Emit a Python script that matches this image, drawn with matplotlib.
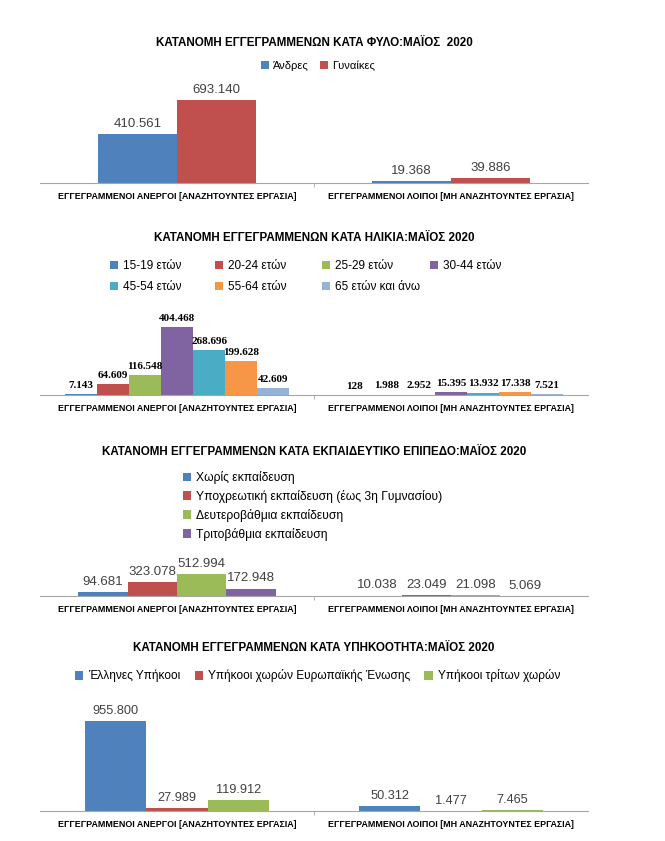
import numpy as np
import matplotlib
matplotlib.use("Agg")
import matplotlib.pyplot as plt
from matplotlib.legend import Legend

plt.rcParams['font.family'] = ['Liberation Sans', 'DejaVu Sans']

# categories (x axis of every chart)
cats = ['ΕΓΓΕΓΡΑΜΜΕΝΟΙ ΑΝΕΡΓΟΙ [ΑΝΑΖΗΤΟΥΝΤΕΣ ΕΡΓΑΣΙΑ]',
        'ΕΓΓΕΓΡΑΜΜΕΝΟΙ ΛΟΙΠΟΙ [ΜΗ ΑΝΑΖΗΤΟΥΝΤΕΣ ΕΡΓΑΣΙΑ]']

# chart 1: by sex
sex_labels = ['Άνδρες', 'Γυναίκες']
sex_men = [410561, 19368]
sex_women = [693140, 39886]

# chart 2: by age
age_labels = ['15-19 ετών', '20-24 ετών', '25-29 ετών', '30-44 ετών',
              '45-54 ετών', '55-64 ετών', '65 ετών και άνω']
age_15_19 = [7143, 128]
age_20_24 = [64609, 1988]
age_25_29 = [116548, 2952]
age_30_44 = [404468, 15395]
age_45_54 = [268696, 13932]
age_55_64 = [199628, 17338]
age_65 = [42609, 7521]

# chart 3: by education
edu_labels = ['Χωρίς εκπαίδευση', 'Υποχρεωτική εκπαίδευση (έως 3η Γυμνασίου)',
              'Δευτεροβάθμια εκπαίδευση', 'Τριτοβάθμια εκπαίδευση']
edu_none = [94681, 10038]
edu_compulsory = [323078, 23049]
edu_secondary = [512994, 21098]
edu_tertiary = [172948, 5069]

# chart 4: by nationality
nat_labels = ['Έλληνες Υπήκοοι', 'Υπήκοοι χωρών Ευρωπαϊκής Ένωσης', 'Υπήκοοι τρίτων χωρών']
nat_greek = [955800, 50312]
nat_eu = [27989, 1477]
nat_other = [119912, 7465]

BLUE, RED, GREEN, PURPLE = '#4F81BD', '#C0504D', '#9BBB59', '#8064A2'
AQUA, ORANGE, LBLUE = '#4BACC6', '#F79646', '#95B3D7'

W, H = 665, 841
fig = plt.figure(figsize=(W / 100, H / 100), dpi=100)


def fmt(v):
    return f"{v:,}".replace(',', '.')


def make_axes(top, bottom):
    ax = fig.add_axes([40 / W, 1 - bottom / H, 548 / W, (bottom - top) / H])
    for s in ['top', 'right', 'left']:
        ax.spines[s].set_visible(False)
    ax.spines['bottom'].set_color('#A6A6A6')
    ax.set_yticks([])
    ax.set_xlim(-0.5, 1.5)
    ax.set_xticks([0, 1])
    ax.set_xticklabels(cats, fontsize=6.4, fontweight='bold')
    ax.tick_params(axis='x', length=0, pad=6.5)
    ax.set_xticks([0.5], minor=True)
    ax.tick_params(axis='x', which='minor', length=3, color='#A6A6A6')
    return ax


def grouped(ax, labels, series, colors, group_w, ymax, lab_kw):
    n = len(series)
    w = group_w / n
    x = np.arange(len(cats))
    for i, (lab, vals, c) in enumerate(zip(labels, series, colors)):
        bars = ax.bar(x - group_w / 2 + w * (i + 0.5), vals, w, color=c, label=lab)
        ax.bar_label(bars, labels=[fmt(v) for v in vals], padding=3, **lab_kw)
    ax.set_ylim(0, ymax)


def title(y, text):
    fig.text(314 / W, 1 - y / H, text, ha='center', va='center',
             fontsize=8.4, fontweight='bold')


leg_kw = dict(frameon=False, handlelength=0.7, handleheight=0.7,
              handletextpad=0.4, borderpad=0, borderaxespad=0,
              bbox_transform=fig.transFigure)

# ---- chart 1
title(43, 'ΚΑΤΑΝΟΜΗ ΕΓΓΕΓΡΑΜΜΕΝΩΝ ΚΑΤΑ ΦΥΛΟ:ΜΑΪΟΣ  2020')
ax1 = make_axes(80, 183)
grouped(ax1, sex_labels, [sex_men, sex_women], [BLUE, RED], 0.573, 860000,
        dict(fontsize=9.5, color='#404040'))
ax1.legend(loc='center', bbox_to_anchor=(318 / W, 1 - 66 / H), ncol=2,
           columnspacing=1.0, fontsize=8, **leg_kw)

# ---- chart 2
title(238, 'ΚΑΤΑΝΟΜΗ ΕΓΓΕΓΡΑΜΜΕΝΩΝ ΚΑΤΑ ΗΛΙΚΙΑ:ΜΑΪΟΣ 2020')
ax2 = make_axes(300, 395)
grouped(ax2, age_labels,
        [age_15_19, age_20_24, age_25_29, age_30_44, age_45_54, age_55_64, age_65],
        [BLUE, RED, GREEN, PURPLE, AQUA, ORANGE, LBLUE], 0.82, 565000,
        dict(fontsize=8, fontweight='bold', fontfamily='Liberation Serif'))
h2, l2 = ax2.get_legend_handles_labels()
col_x = [110, 215, 322, 430]
for c, cx in enumerate(col_x):
    leg = Legend(ax2, h2[c::4], l2[c::4], loc='upper left',
                 bbox_to_anchor=(cx / W, 1 - 260 / H), ncol=1,
                 labelspacing=0.8, fontsize=8.5, **leg_kw)
    ax2.add_artist(leg)

# ---- chart 3
title(452, 'ΚΑΤΑΝΟΜΗ ΕΓΓΕΓΡΑΜΜΕΝΩΝ ΚΑΤΑ ΕΚΠΑΙΔΕΥΤΙΚΟ ΕΠΙΠΕΔΟ:ΜΑΪΟΣ 2020')
ax3 = make_axes(545, 596)
grouped(ax3, edu_labels, [edu_none, edu_compulsory, edu_secondary, edu_tertiary],
        [BLUE, RED, GREEN, PURPLE], 0.72, 1188000,
        dict(fontsize=9.5, color='#404040'))
ax3.legend(loc='upper left', bbox_to_anchor=(183 / W, 1 - 471 / H), ncol=1,
           labelspacing=0.49, fontsize=8.7, **leg_kw)

# ---- chart 4
title(648, 'ΚΑΤΑΝΟΜΗ ΕΓΓΕΓΡΑΜΜΕΝΩΝ ΚΑΤΑ ΥΠΗΚΟΟΤΗΤΑ:ΜΑΪΟΣ 2020')
ax4 = make_axes(700, 811)
grouped(ax4, nat_labels, [nat_greek, nat_eu, nat_other], [BLUE, RED, GREEN],
        0.67, 1178800, dict(fontsize=9.2, color='#404040'))
ax4.legend(loc='center left', bbox_to_anchor=(75 / W, 1 - 676 / H), ncol=3,
           columnspacing=1.2, fontsize=8.6, **leg_kw)

fig.savefig('out.png', dpi=100)
